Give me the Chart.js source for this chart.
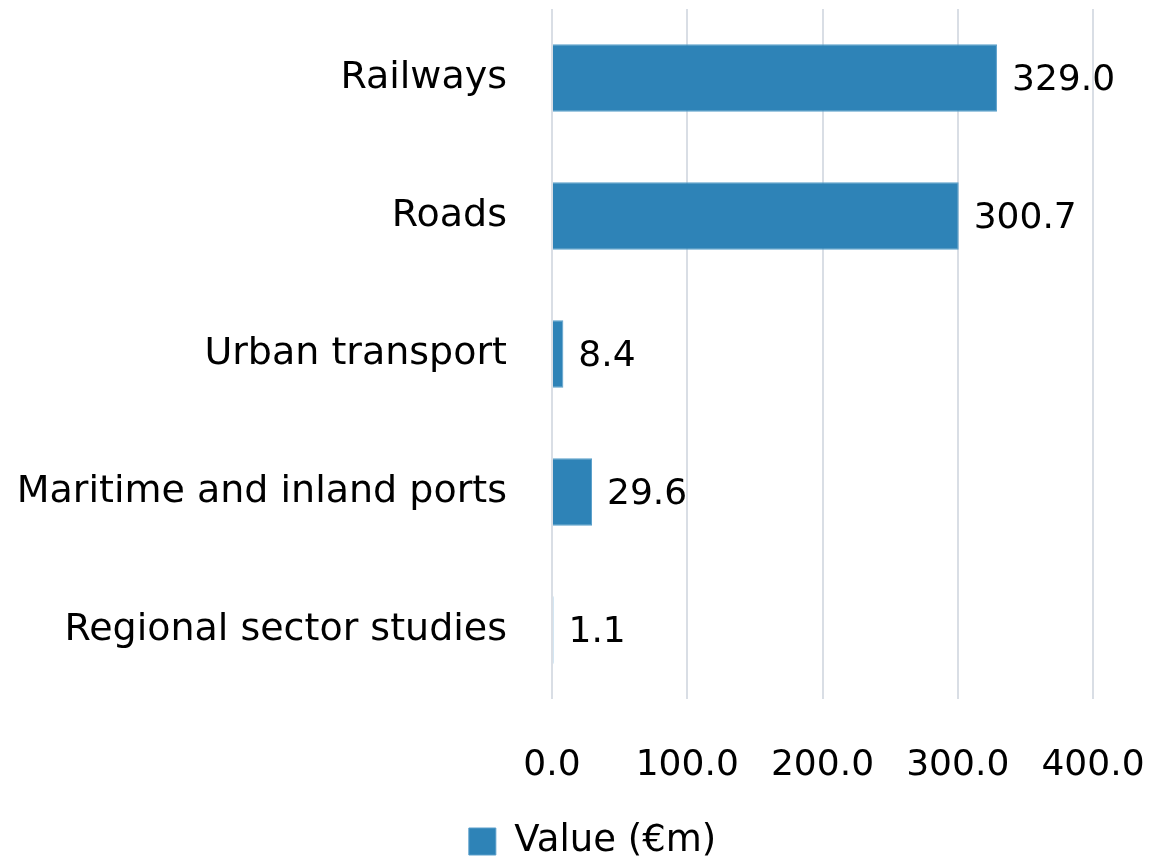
<!DOCTYPE html>
<html>
<head>
<meta charset="utf-8">
<script src="https://cdn.jsdelivr.net/npm/chart.js@4/dist/chart.umd.min.js"></script>
<style>
html,body{margin:0;padding:0;background:#fff;}
#wrap{width:1151px;height:863px;position:relative;}
</style>
</head>
<body>
<div id="wrap"><canvas id="c" width="1151" height="863"></canvas></div>
<script>
const categories = ["Railways", "Roads", "Urban transport", "Maritime and inland ports", "Regional sector studies"];
const values = [329.0, 300.7, 8.4, 29.6, 1.1];
const seriesName = "Value (€m)";
const xTicks = [0, 100, 200, 300, 400];

const FONT = "'DejaVu Sans', sans-serif";

const valueLabels = {
  id: 'valueLabels',
  afterDatasetsDraw(chart) {
    const ctx = chart.ctx;
    const meta = chart.getDatasetMeta(0);
    ctx.save();
    ctx.font = "36px " + FONT;
    ctx.fillStyle = "#000";
    ctx.textAlign = "left";
    ctx.textBaseline = "middle";
    meta.data.forEach((bar, i) => {
      ctx.fillText(values[i].toFixed(1), bar.x + 15, bar.y + 3);
    });
    ctx.restore();
  }
};

const legendShift = {
  id: 'legendShift',
  afterLayout(chart) {
    const lg = chart.legend;
    if (!lg) return;
    lg.left += 46; lg.right += 46;
    lg.top += 7; lg.bottom += 7;
  }
};

new Chart(document.getElementById('c'), {
  type: 'bar',
  data: {
    labels: categories,
    datasets: [{
      label: seriesName,
      data: values,
      backgroundColor: '#2E83B7',
      borderColor: '#5A9FCB',
      borderWidth: 1,
      categoryPercentage: 1.0,
      barPercentage: 0.49
    }]
  },
  options: {
    indexAxis: 'y',
    responsive: false,
    animation: false,
    devicePixelRatio: 1,
    layout: { padding: { top: 9, right: 58, left: 0, bottom: 0 } },
    scales: {
      x: {
        min: 0, max: 400,
        afterBuildTicks(scale) { scale.ticks = xTicks.map(v => ({ value: v })); },
        afterFit(scale) { scale.height = 111; scale.paddingLeft = 0; scale.paddingRight = 0; },
        grid: { color: '#D9DEE5', lineWidth: 2, drawTicks: false },
        border: { display: false },
        ticks: {
          padding: 45,
          maxRotation: 0,
          color: '#000',
          font: { family: FONT, size: 36 },
          callback: (v) => Number(v).toFixed(1)
        }
      },
      y: {
        afterFit(scale) { scale.width = 552; scale.paddingTop = 0; scale.paddingBottom = 0; },
        grid: { display: false, drawTicks: false },
        border: { display: false },
        ticks: {
          padding: 45,
          color: '#000',
          font: { family: FONT, size: 38 }
        }
      }
    },
    plugins: {
      legend: {
        position: 'bottom',
        labels: {
          color: '#000',
          font: { family: FONT, size: 37 },
          boxWidth: 27, boxHeight: 27,
          padding: 6
        }
      },
      tooltip: { enabled: false }
    }
  },
  plugins: [valueLabels, legendShift]
});
</script>
</body>
</html>
